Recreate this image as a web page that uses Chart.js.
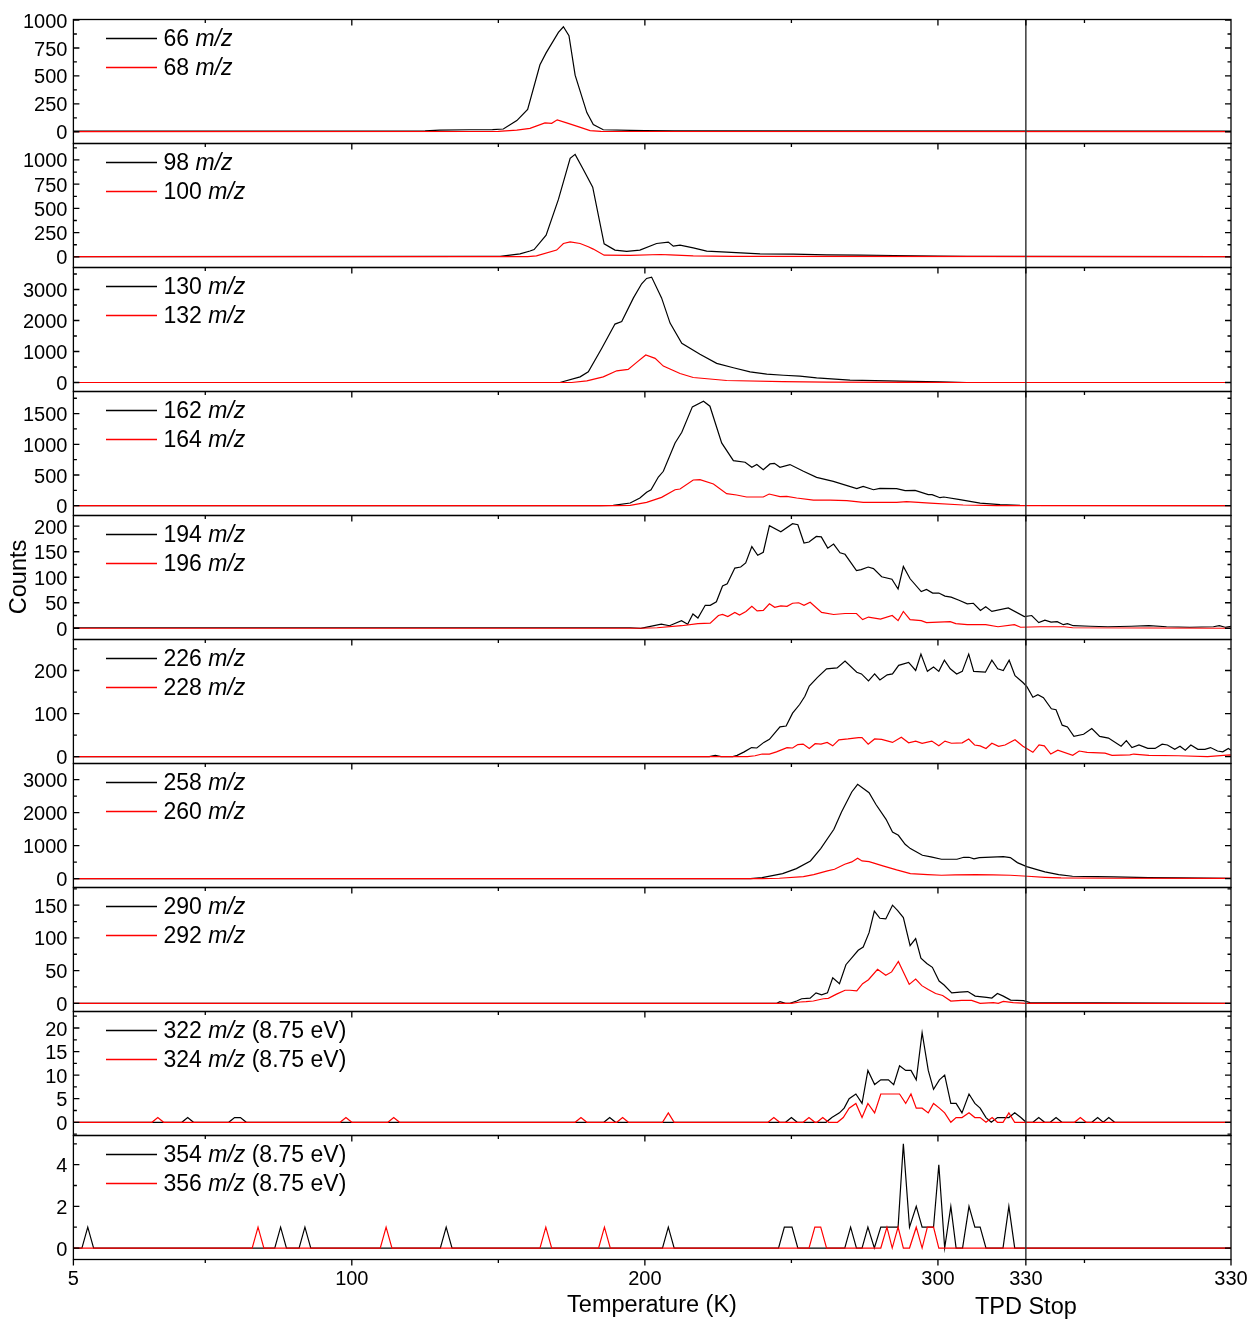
<!DOCTYPE html>
<html>
<head>
<meta charset="utf-8">
<script src="https://cdn.jsdelivr.net/npm/chart.js@4.4.1/dist/chart.umd.min.js"></script>
<style>
  body { margin: 0; background: #fff; }
  canvas { display: block; }
</style>
</head>
<body>
<canvas id="tpd" width="1251" height="1320"></canvas>
<script>
// TPD traces, [temperature axis position, counts]; after 330 K the axis is hold time at 330 K
const m66 = [[5,5],[125,8],[130,15],[140,18],[148,20],[151.7,25],[156.3,100],[160,200],[164.2,600],[166.3,706],[170.5,890],[172.2,940],[174.1,860],[176.2,507],[180.2,172],[182.4,64],[185.8,18],[195,12],[200,10],[210,8],[400,5]];
const m68 = [[5,2],[150,3],[156.3,15],[160.8,30],[165.9,80],[168.2,76],[170.1,107],[173.3,80],[176.7,50],[181.3,10],[185,3],[400,2]];

const m98 = [[5,3],[145,4],[150.6,5],[157.4,30],[160.8,60],[162.2,75],[166.3,223],[170.5,593],[174.5,1017],[176.2,1058],[179,902],[182.2,720],[186.1,135],[189.8,70],[193.8,56],[198.3,70],[204,138],[208,152],[209.7,110],[212,120],[216.5,93],[221.1,59],[227.9,48],[239.3,31],[250.6,28],[262,21],[273.4,17],[285,14],[300,8],[310,4],[400,3]];
const m100 = [[5,2],[160,3],[163,10],[169.9,70],[172.2,138],[174.5,155],[177.9,138],[180.7,104],[182.4,80],[186.1,17],[195,15],[205.2,24],[208.6,21],[216.5,10],[230,5],[400,2]];

const m130 = [[5,0],[171,0],[177.9,182],[180.7,345],[185.3,1105],[189.8,1885],[192.1,1970],[196.1,2730],[198.9,3185],[200.6,3357],[202.3,3400],[205.7,2730],[208.6,1917],[212.6,1268],[218.8,910],[224.5,617],[230.2,475],[235.9,345],[241.6,270],[247.3,235],[252.9,205],[258.6,150],[270,75],[287,45],[300.7,25],[309.8,0],[400,0]];
const m132 = [[5,0],[175,0],[180.2,54],[185.8,182],[190.4,377],[194.3,422],[197.2,650],[200.3,887],[203.5,780],[206.3,530],[212,292],[216.5,162],[227.9,65],[247,30],[262,15],[290,5],[310,0],[400,0]];

const m162 = [[5,0],[185,0],[189.2,5],[195,43],[198.3,125],[200.6,217],[202.1,260],[204.6,467],[206.3,560],[210.3,1022],[212.6,1196],[216.2,1610],[220,1700],[222.2,1620],[226.2,1022],[230.2,734],[234.2,707],[236.5,625],[238.2,670],[240.4,587],[242.7,680],[244.2,690],[246.1,625],[249.5,670],[254.1,560],[258.6,462],[264.3,397],[272.3,277],[274.5,315],[278,260],[280.2,282],[285.9,277],[288.8,245],[292.2,250],[296.7,180],[298,180],[300.7,130],[302,141],[307.5,98],[314.4,43],[321.2,16],[328,5],[400,0]];
const m164 = [[5,0],[190,0],[195,5],[200.6,54],[205.7,136],[210.3,260],[212,272],[216.5,418],[218.8,424],[223.4,353],[227.9,196],[231.3,174],[234.7,141],[240.4,141],[242.4,190],[246.1,147],[248.4,150],[251.8,125],[257.5,92],[263.2,92],[268.9,82],[274.5,54],[285.9,54],[289.3,65],[297.3,43],[308.6,11],[320,2],[400,0]];

const m194 = [[5,1],[195,1],[198.6,0],[205.6,8],[208.4,5],[212.5,15],[214.6,8],[216.4,28],[218.1,20],[220.6,45],[222.3,45],[224.4,52],[226.5,83],[228.1,87],[230.7,118],[232.7,120],[234.4,128],[236.5,160],[238.5,143],[240.4,149],[242.5,201],[246.4,189],[250.4,205],[252.2,203],[254.3,167],[256,169],[258.5,180],[260.2,179],[262.4,157],[264.4,165],[266.6,148],[268.3,145],[272.2,113],[273.8,115],[276.2,120],[278,117],[280.8,101],[284.3,96],[286.4,77],[288.2,121],[290.5,97],[294.3,72],[296.1,76],[298.2,69],[300.3,69],[302.4,63],[304.5,61],[307.2,55],[310,48],[312.1,49],[314.5,35],[316.3,42],[318.4,33],[324,40],[329.5,23],[332,25],[334.4,11],[336.5,16],[338.6,12],[340.7,13],[342.8,7],[344.2,9],[346.2,5],[352,4],[358,3],[366,4],[372,5],[378,3],[386,2],[394,3],[396,5],[398,2],[400,4]];
const m196 = [[5,0],[198.6,0],[204.2,1],[212.5,5],[218.1,9],[222.3,10],[225.1,25],[226.5,27],[228.3,23],[230.7,31],[232.3,26],[234.5,33],[236.5,43],[238.3,34],[240.4,35],[242.5,48],[244.3,41],[246.4,44],[248.5,43],[250.4,49],[252.5,50],[254.3,45],[256.4,51],[260.3,31],[264.4,27],[268.3,29],[272.2,29],[274.3,17],[276.3,22],[280.4,18],[284.4,25],[286.4,15],[288.2,33],[290.5,17],[294.3,15],[296.1,11],[304.2,13],[306.1,9],[310,7],[316.3,7],[320.5,3],[326.1,7],[328.2,2],[335,3],[343,3],[346,1],[400,0]];

const m226 = [[5,0],[222,0],[224,3],[226,0],[230,0],[231.5,3],[233.9,11],[236.4,21],[238.2,20],[240.6,33],[242.5,40],[246.1,69],[248.2,71],[250.4,101],[252.8,121],[254.6,140],[256.1,164],[258.9,184],[262,204],[265.6,206],[268.3,222],[272.3,196],[273.9,192],[276.3,176],[278.4,192],[280.2,178],[282.7,190],[284.5,192],[286.6,212],[290,219],[292.4,200],[294.2,238],[296.4,198],[298.5,208],[300.3,198],[302.2,224],[304.2,204],[306.4,192],[308.3,198],[310.5,238],[312.2,198],[316.2,196],[318.4,224],[320.4,204],[322.3,200],[324.3,224],[326.3,188],[329,172],[330.4,162],[332.4,138],[334.1,144],[336,137],[338.7,111],[340.3,109],[342.4,73],[344.2,69],[346.4,47],[349.7,52],[352.5,65],[355.2,47],[358.2,43],[362.5,24],[364.3,37],[366.2,21],[368.6,27],[371.6,19],[374.1,19],[376.5,29],[378.3,27],[380.8,17],[382.6,24],[384.4,15],[386.3,27],[388.7,17],[391.1,17],[393,21],[395.4,13],[397.2,11],[399.1,19],[400,15]];
const m228 = [[5,0],[235,0],[237.6,2],[240,6],[242.5,6],[244.9,11],[248.5,21],[250.4,20],[252.2,28],[254,29],[256.1,19],[258.1,30],[260.1,29],[262.2,33],[264.1,25],[266.2,39],[269.3,41],[272.9,44],[274.1,44],[276.2,29],[278.4,41],[280.8,40],[284.5,33],[287.5,45],[290,32],[292.4,36],[294.6,31],[297.9,36],[300.3,25],[302.4,36],[304.6,31],[308.3,32],[310.5,41],[312.5,27],[314.4,25],[316.4,19],[318.4,31],[320.7,24],[322.9,27],[326.3,39],[329,24],[332.4,10],[334.5,27],[336.3,25],[338.5,6],[340.9,15],[346,3],[348.2,13],[350.9,10],[357,8],[359.4,3],[365.5,4],[366.8,6],[372,3],[382,2],[392,0],[399.7,4],[400,3]];

const m258 = [[5,0],[236,0],[240,30],[247,150],[251.7,303],[256.5,535],[260,909],[264.5,1495],[267.1,2020],[270.6,2626],[272.6,2859],[276.5,2606],[278.8,2253],[282.3,1798],[284.5,1414],[286.5,1313],[288.8,1040],[290.6,909],[294.7,707],[297.6,657],[301.2,586],[306.5,586],[308.8,646],[310.6,646],[312.3,596],[314.1,636],[322.3,667],[324.7,636],[327.1,485],[330.3,364],[334.1,263],[336.5,202],[341.2,121],[345.9,71],[354.1,61],[360,51],[371.8,30],[383.5,20],[400,10]];
const m260 = [[5,0],[240,0],[245.9,10],[254.1,61],[257.6,121],[262.3,232],[264.7,283],[268.2,434],[270.6,505],[272.6,616],[274.1,535],[276.5,515],[281.2,384],[285.9,263],[290.6,152],[296.5,121],[301.2,101],[305.9,111],[312.9,121],[318.8,111],[324.7,101],[330.6,71],[336.5,40],[342,20],[360,10],[400,5]];

const m290 = [[5,0],[245,0],[246.1,2.5],[248,0],[249.5,0],[251.8,3.5],[253.5,7],[256.4,8],[258.4,16],[260.3,13],[262.3,16],[264.1,39],[266.4,30],[268.6,59],[271.1,72],[272.8,81],[274.5,86],[276.5,108],[278.3,141],[280.2,130],[282.2,129],[284.5,150],[286.2,142],[288.2,131],[290.5,88],[292.4,99],[294.2,69],[296.2,61],[298.1,55],[300.4,34],[302.1,28],[304.7,16],[307.5,17],[310.2,18],[312.7,11],[316.6,9],[318.4,8],[320.3,15],[322.3,11],[324.8,5],[329.2,4],[331.4,1],[400,0]];
const m292 = [[5,0],[250,0],[253,2],[255,2.5],[257.5,3.5],[260.9,7],[262.6,7.6],[265.4,14],[268.3,20],[270,20],[272.3,19],[274.3,30],[276.3,36],[279.4,52],[282.2,43],[284.2,48],[286.5,64],[288.2,48],[290.2,29],[292.4,37],[294.5,27],[296.7,21],[299.2,15],[301.6,12],[304.4,3.5],[308.1,4.6],[311.5,4.6],[314.4,0],[318.9,1],[320.6,0],[322.3,3],[325.7,1],[330.3,0],[400,0]];

const m322 = [[5,0],[42,0],[44,1],[46,0],[58,0],[60,1],[62,1],[64,0],[186,0],[188,1],[190,0],[248,0],[250,1],[252,0],[261.8,0],[263.8,1],[266.4,2],[268,3],[269.7,5],[272,6],[274.1,4],[276.1,11],[278.4,8],[280.5,9],[283.1,9],[284.9,8],[286.9,12],[289,11],[290.8,11],[292.6,9],[294.6,19],[296.7,11],[298.5,7],[300.5,9],[302.3,10],[304.4,4],[306.2,4],[308.2,2],[310.6,6],[312.6,4],[314.4,3],[316.4,1],[318.2,0],[320.3,1],[322.1,1],[324.2,1],[326.2,2],[328.3,1],[330.1,0],[332.4,0],[334.4,1],[336.4,0],[338.3,0],[340.3,1],[342.3,0],[352.5,0],[354.5,1],[356.4,0],[358.3,1],[360.3,0],[400,0]];
const m324 = [[5,0],[31.8,0],[33.8,1],[35.8,0],[96,0],[98,1],[100,0],[112.3,0],[114.3,1],[116.3,0],[176.2,0],[178.2,1],[180.2,0],[190.4,0],[192.4,1],[194.4,0],[206,0],[208,2],[210,0],[242,0],[244,1],[246,0],[254,0],[256,1],[258,0],[258.7,0],[260.7,1],[262.7,0],[265.7,0],[267.7,1],[269.7,3],[272,4],[274.1,1],[276.1,4],[278.4,2],[280.5,6],[283.1,6],[284.9,6],[286.9,6],[289,4],[290.8,6],[292.6,3],[294.6,3],[296.7,2],[298.5,4],[300.5,3],[302.3,2],[304.4,0],[306.2,1],[308.2,1],[310.6,2],[312.6,1],[314.4,1],[316.4,0],[318.5,1],[320.3,0],[322.2,0],[324.2,2],[326.2,0],[346.6,0],[348.6,1],[350.6,0],[400,0]];

const m354 = [[5,0],[7.9,0],[9.9,1],[11.9,0],[73.7,0],[75.7,1],[77.7,0],[82,0],[84,1],[86,0],[130.2,0],[132.2,1],[134.2,0],[206,0],[208,1],[210,0],[245.6,0],[247.6,1],[250.2,1],[252.2,0],[268.2,0],[270.2,1],[272.2,0],[274.1,0],[276.1,1],[278.3,0],[280.5,1],[282.6,1],[284.4,1],[286.4,1],[288.2,5],[290.3,1],[292.6,2],[294.6,1],[296.4,1],[298.5,1],[300.3,4],[302.3,0],[304.4,2],[306.2,0],[308.4,0],[310.6,2],[312.6,1],[314.4,1],[316.4,0],[322.2,0],[324.2,2],[326.2,0],[400,0]];
const m356 = [[5,0],[66,0],[68,1],[70,0],[109.7,0],[111.7,1],[113.7,0],[164.2,0],[166.2,1],[168.2,0],[184.2,0],[186.2,1],[188.2,0],[256,0],[258,1],[260,1],[262,0],[280.5,0],[282.6,1],[284.4,0],[286.4,1],[288.2,0],[290.3,0],[292.6,1],[294.6,0],[296.4,1],[298.5,1],[300.3,0],[400,0]];

// panel order top to bottom
const blackSeries = [m66, m98, m130, m162, m194, m226, m258, m290, m322, m354];
const redSeries = [m68, m100, m132, m164, m196, m228, m260, m292, m324, m356];
const blackMass = ['66', '98', '130', '162', '194', '226', '258', '290', '322', '354'];
const redMass = ['68', '100', '132', '164', '196', '228', '260', '292', '324', '356'];
const massNote = ['', '', '', '', '', '', '', '', ' (8.75 eV)', ' (8.75 eV)'];
const yTicks = [
  [0, 250, 500, 750, 1000],
  [0, 250, 500, 750, 1000],
  [0, 1000, 2000, 3000],
  [0, 500, 1000, 1500],
  [0, 50, 100, 150, 200],
  [0, 100, 200],
  [0, 1000, 2000, 3000],
  [0, 50, 100, 150],
  [0, 5, 10, 15, 20],
  [0, 2, 4]
];
const yLimits = [
  [-105, 1005], [-110, 1170], [-290, 3710], [-160, 1860], [-22, 221],
  [-16, 272], [-270, 3490], [-12.5, 177], [-2.8, 23.5], [-0.55, 5.4]
];
const xMajor = [5, 100, 200, 300, 330, 400];
const xMajorText = ['5', '100', '200', '300', '330', '330'];
const xMinor = [50, 150, 250, 350];
const tpdStop = 330;

const FONT = "'Liberation Sans', Arial, Helvetica, sans-serif";
Chart.defaults.font.family = FONT;
Chart.defaults.color = '#000';

const nPanels = blackSeries.length;

const datasets = [];
for (let i = 0; i < nPanels; i++) {
  // red listed first so it ends up drawn over the black trace
  datasets.push({ data: redSeries[i], yAxisID: 'y' + i, borderColor: '#ff0000', borderWidth: 1.2 });
  datasets.push({ data: blackSeries[i], yAxisID: 'y' + i, borderColor: '#000000', borderWidth: 1.2 });
}

const scales = {
  x: {
    type: 'linear', position: 'bottom', min: 5, max: 400,
    grid: { display: false, drawTicks: false }, border: { display: false },
    afterBuildTicks: s => { s.ticks = xMajor.map(v => ({ value: v })); },
    // the end labels may hang past the frame; keep them from shrinking the plot
    afterFit: s => { s.height = 40; s.paddingLeft = 0; s.paddingRight = 0; },
    ticks: { autoSkip: false, maxRotation: 0, padding: 8, font: { size: 20 }, callback: (v, i) => xMajorText[i] }
  }
};
// stacked boxes are laid out top-down in reverse definition order, so define the bottom panel first
for (let i = nPanels - 1; i >= 0; i--) {
  scales['y' + i] = {
    type: 'linear', position: 'left', stack: 'tpd', stackWeight: 1,
    min: yLimits[i][0], max: yLimits[i][1],
    grid: { display: false, drawTicks: false }, border: { display: false },
    afterBuildTicks: s => { s.ticks = yTicks[i].map(v => ({ value: v })); },
    afterFit: s => { s.width = 73.4; },
    ticks: { autoSkip: false, padding: 6, labelOffset: 2, font: { size: 20 }, callback: v => String(v) }
  };
}

function minorOf(ticks, lo, hi) {
  const step = ticks[1] - ticks[0];
  const out = [];
  for (let v = ticks[0] - step / 2; v <= hi; v += step) if (v >= lo) out.push(v);
  return out;
}

function legendText(ctx, x, y, mass, note) {
  ctx.font = '23px ' + FONT;
  ctx.fillText(mass + ' ', x, y);
  x += ctx.measureText(mass + ' ').width;
  ctx.font = 'italic 23px ' + FONT;
  ctx.fillText('m/z', x, y);
  x += ctx.measureText('m/z').width;
  if (note) {
    ctx.font = '23px ' + FONT;
    ctx.fillText(note, x, y);
  }
}

const panelDecor = {
  id: 'panelDecor',
  afterDatasetsDraw(chart) {
    const ctx = chart.ctx;
    const xs = chart.scales.x;
    const { left, right, top, bottom } = chart.chartArea;
    ctx.save();

    // TPD stop marker through every panel
    ctx.strokeStyle = '#3a3a3a';
    ctx.lineWidth = 1.5;
    const xs330 = xs.getPixelForValue(tpdStop);
    ctx.beginPath();
    ctx.moveTo(xs330, top);
    ctx.lineTo(xs330, bottom);
    ctx.stroke();

    ctx.strokeStyle = '#000';
    ctx.lineWidth = 1.3;
    for (let i = 0; i < nPanels; i++) {
      const ys = chart.scales['y' + i];
      const pt = ys.top, pb = ys.bottom;
      ctx.strokeRect(left, pt, right - left, pb - pt);

      ctx.beginPath();
      // y ticks, inward on both sides
      yTicks[i].forEach(v => {
        const py = ys.getPixelForValue(v);
        ctx.moveTo(left, py); ctx.lineTo(left + 6, py);
        ctx.moveTo(right, py); ctx.lineTo(right - 6, py);
      });
      minorOf(yTicks[i], ys.min, ys.max).forEach(v => {
        const py = ys.getPixelForValue(v);
        ctx.moveTo(left, py); ctx.lineTo(left + 3.5, py);
        ctx.moveTo(right, py); ctx.lineTo(right - 3.5, py);
      });
      // temperature ticks hanging from each panel's top edge
      xMajor.slice(1, -1).forEach(v => {
        const px = xs.getPixelForValue(v);
        ctx.moveTo(px, pt); ctx.lineTo(px, pt + 6);
      });
      xMinor.forEach(v => {
        const px = xs.getPixelForValue(v);
        ctx.moveTo(px, pt); ctx.lineTo(px, pt + 3.5);
      });
      ctx.stroke();

      // legend
      const ly1 = pt + 19, ly2 = pt + 48;
      ctx.lineWidth = 1.3;
      ctx.strokeStyle = '#000';
      ctx.beginPath(); ctx.moveTo(106, ly1); ctx.lineTo(157, ly1); ctx.stroke();
      ctx.strokeStyle = '#ff0000';
      ctx.beginPath(); ctx.moveTo(106, ly2); ctx.lineTo(157, ly2); ctx.stroke();
      ctx.strokeStyle = '#000';
      ctx.fillStyle = '#000';
      ctx.textBaseline = 'middle';
      ctx.textAlign = 'left';
      legendText(ctx, 163.5, ly1 + 1, blackMass[i], massNote[i]);
      legendText(ctx, 163.5, ly2 + 1, redMass[i], massNote[i]);
    }

    // outer temperature axis ticks
    ctx.beginPath();
    xMajor.forEach(v => {
      const px = xs.getPixelForValue(v);
      ctx.moveTo(px, bottom); ctx.lineTo(px, bottom + 6);
    });
    xMinor.forEach(v => {
      const px = xs.getPixelForValue(v);
      ctx.moveTo(px, bottom); ctx.lineTo(px, bottom + 3.5);
    });
    ctx.stroke();

    // axis titles
    ctx.font = '23.5px ' + FONT;
    ctx.textAlign = 'center';
    ctx.textBaseline = 'middle';
    ctx.fillText('Temperature (K)', 652, 1306);
    ctx.fillText('TPD Stop', xs330, 1308);
    ctx.translate(20, 577);
    ctx.rotate(-Math.PI / 2);
    ctx.fillText('Counts', 0, 0);
    ctx.restore();
  }
};

new Chart(document.getElementById('tpd'), {
  type: 'line',
  data: { datasets },
  options: {
    responsive: false,
    animation: false,
    devicePixelRatio: 1,
    layout: { padding: { left: 0, right: 20, top: 19.5, bottom: 20.5 } },
    elements: { point: { radius: 0 }, line: { tension: 0 } },
    plugins: { legend: { display: false }, tooltip: { enabled: false } },
    scales
  },
  plugins: [panelDecor]
});
</script>
</body>
</html>
